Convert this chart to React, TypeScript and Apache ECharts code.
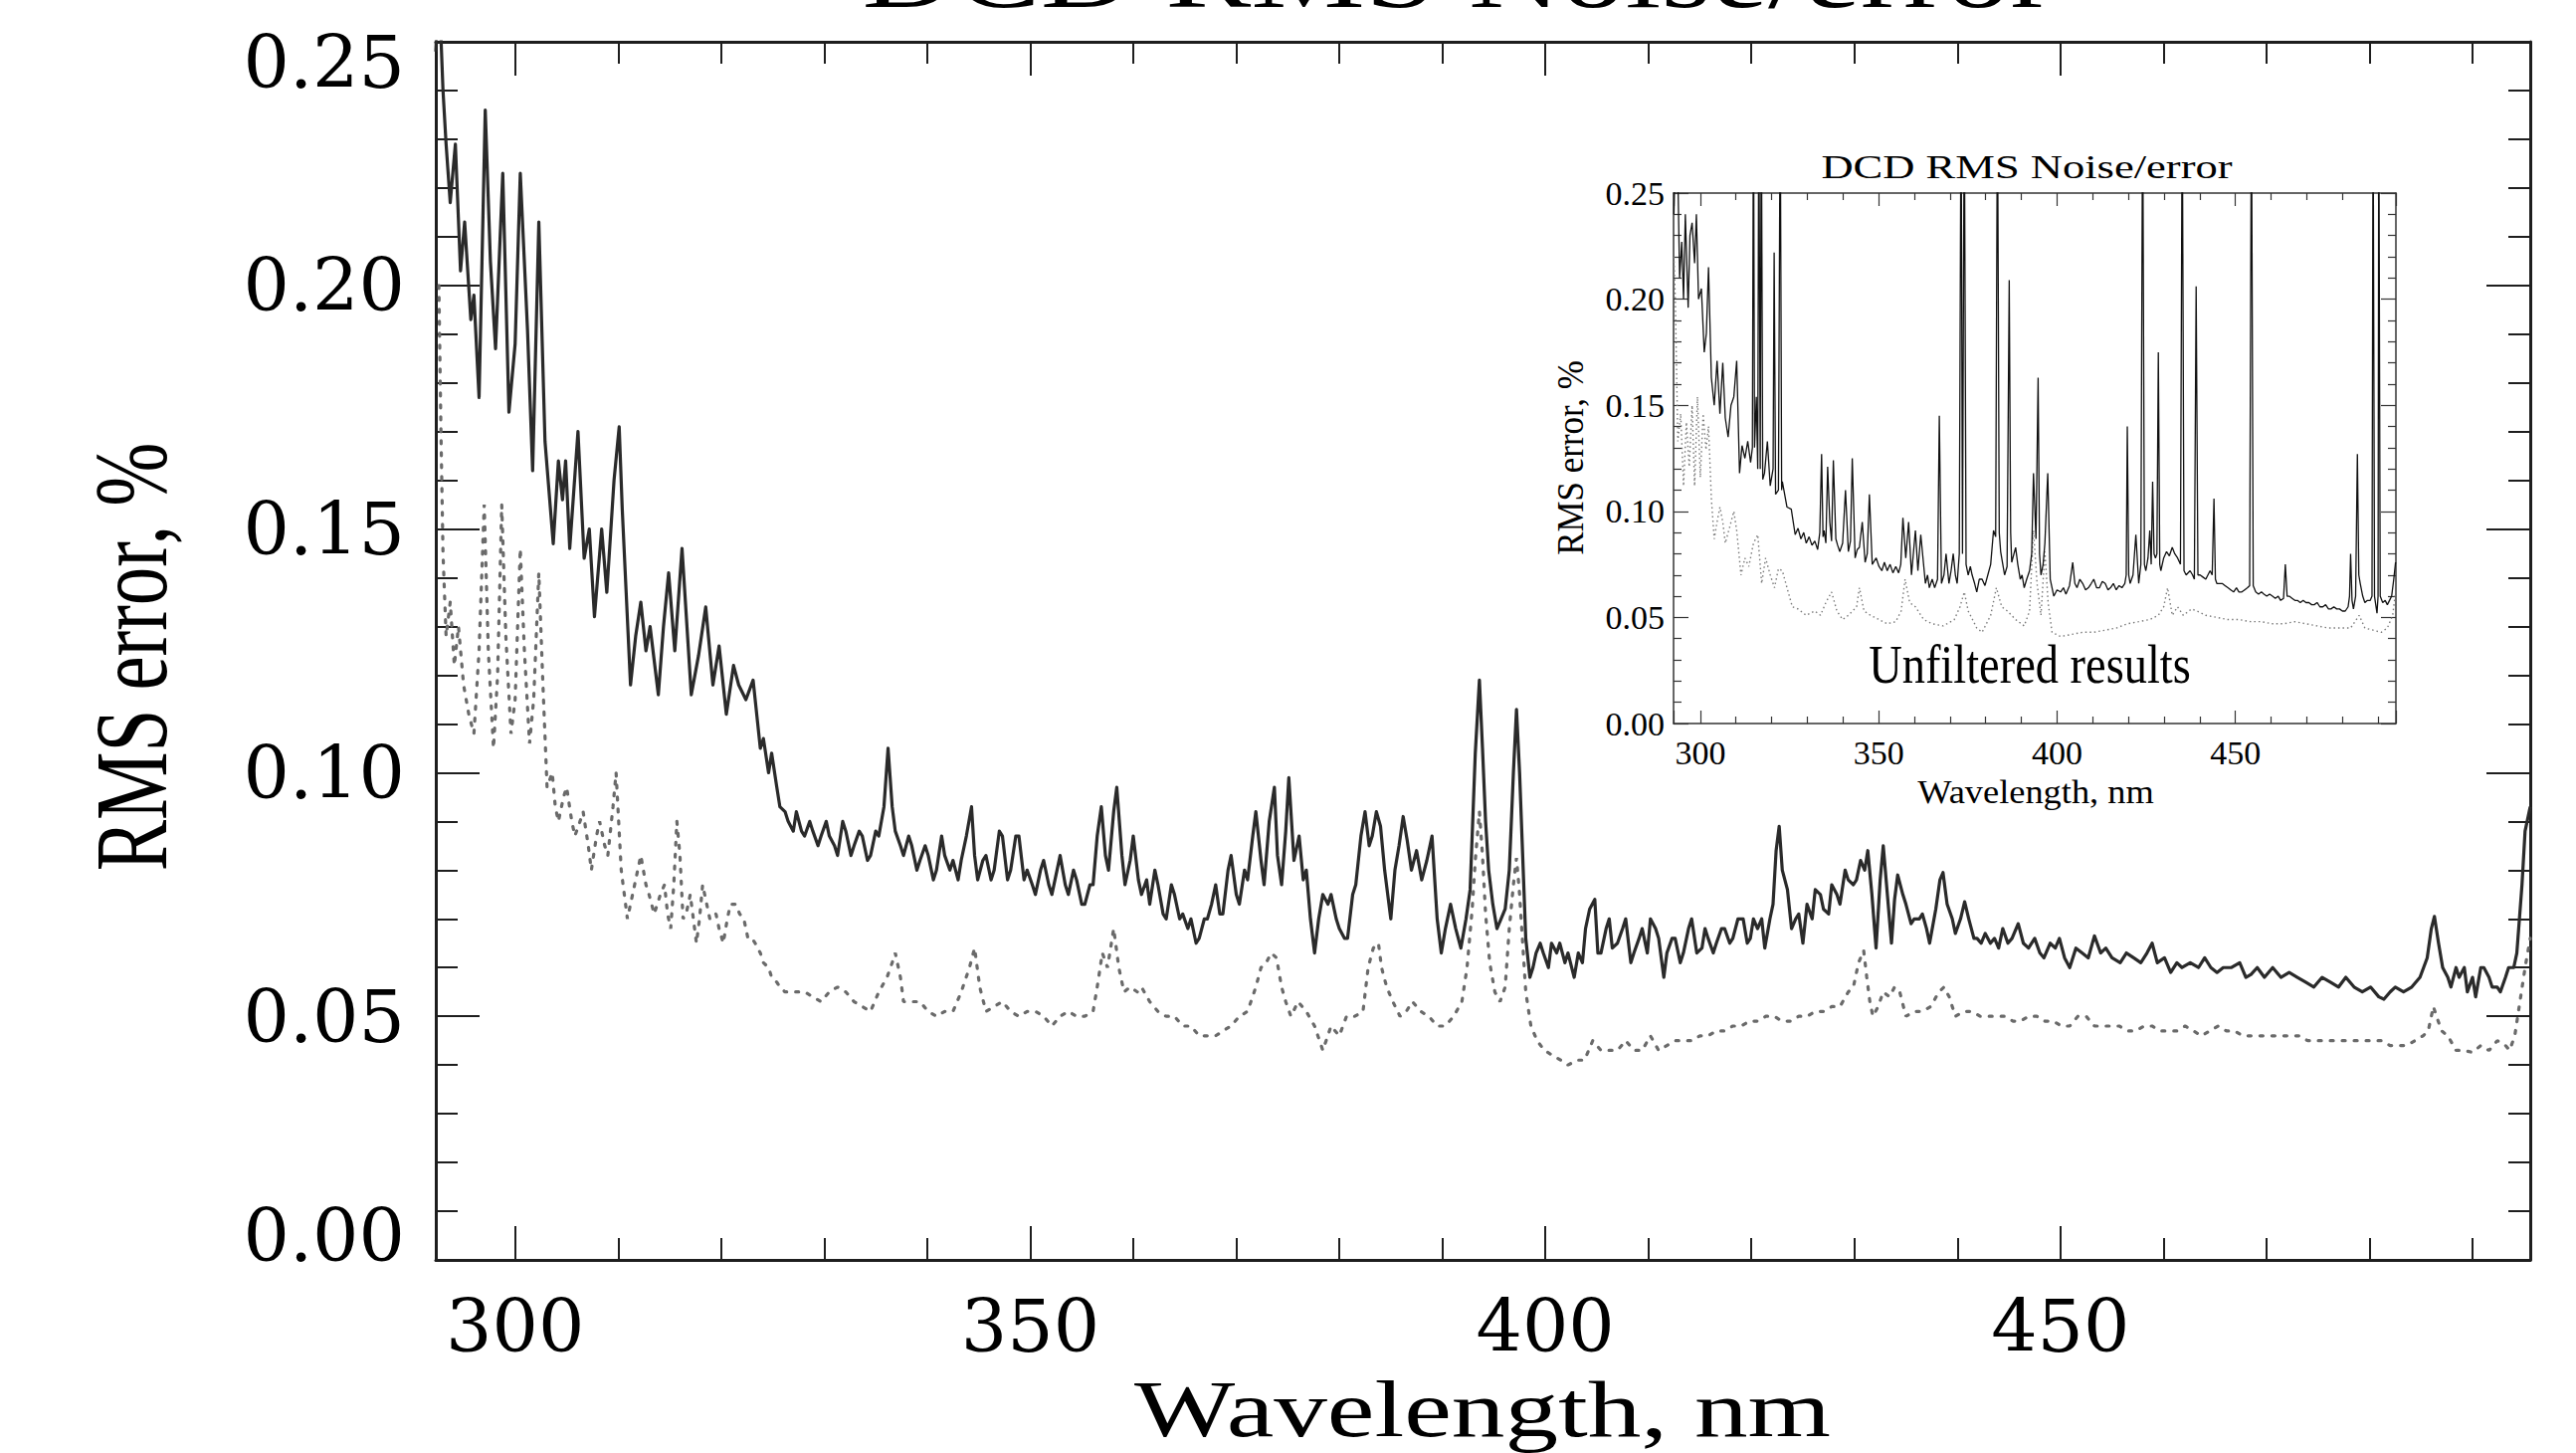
import React, { useEffect, useRef } from "react";
import * as echarts from "echarts";

// Wavelength ranges (nm) of the two panels and the RMS error range (%)
const MAIN_X_MIN = 292.3;
const MAIN_X_MAX = 495.6;
const INSET_X_MIN = 292.5;
const INSET_X_MAX = 495.0;
const Y_MIN = 0;
const Y_MAX = 0.25;
const Y_STEP = 0.05;

const titleText = "DCD RMS Noise/error";
const xAxisTitle = "Wavelength, nm";
const yAxisTitle = "RMS error, %";
const insetNote = "Unfiltered results";

// Filtered RMS error, solid curve: [wavelength nm, error %]
const mainSolid: [number, number][] = [
  [292.3, 0.248], [292.6, 0.262], [293.0, 0.24], [293.3, 0.229], [293.7, 0.217], [294.2, 0.229], [294.7, 0.203],
  [295.1, 0.213], [295.7, 0.193], [296.0, 0.198], [296.5, 0.177], [297.1, 0.236], [297.6, 0.205], [298.1, 0.187],
  [298.8, 0.223], [299.4, 0.174], [300.0, 0.188], [300.5, 0.223], [301.2, 0.191], [301.7, 0.162], [302.3, 0.213],
  [302.9, 0.168], [303.7, 0.147], [304.2, 0.164], [304.6, 0.156], [304.9, 0.164], [305.3, 0.146], [306.1, 0.17],
  [306.7, 0.144], [307.2, 0.15], [307.7, 0.132], [308.4, 0.15], [308.9, 0.137], [309.6, 0.16], [310.1, 0.171],
  [310.4, 0.154], [311.2, 0.118], [311.7, 0.128], [312.2, 0.135], [312.7, 0.125], [313.1, 0.13], [313.9, 0.116],
  [314.4, 0.13], [314.9, 0.141], [315.5, 0.125], [316.2, 0.146], [317.1, 0.116], [317.8, 0.124], [318.5, 0.134],
  [319.2, 0.118], [319.8, 0.126], [320.5, 0.112], [321.2, 0.122], [321.7, 0.118], [322.4, 0.115], [323.1, 0.119],
  [323.8, 0.105], [324.1, 0.107], [324.6, 0.1], [324.9, 0.104], [325.4, 0.097], [325.7, 0.093], [326.2, 0.092],
  [326.5, 0.09], [327.0, 0.088], [327.3, 0.092], [327.8, 0.088], [328.1, 0.087], [328.6, 0.09], [328.9, 0.088],
  [329.4, 0.085], [329.7, 0.087], [330.2, 0.09], [330.5, 0.087], [331.0, 0.085], [331.3, 0.083], [331.8, 0.09],
  [332.1, 0.088], [332.6, 0.083], [332.9, 0.085], [333.4, 0.088], [333.7, 0.087], [334.2, 0.082], [334.5, 0.083],
  [335.0, 0.088], [335.3, 0.087], [335.8, 0.093], [336.2, 0.105], [336.6, 0.093], [336.9, 0.088], [337.4, 0.085],
  [337.7, 0.083], [338.2, 0.087], [338.5, 0.085], [339.0, 0.08], [339.3, 0.082], [339.8, 0.085], [340.1, 0.083],
  [340.6, 0.078], [340.9, 0.08], [341.4, 0.087], [341.7, 0.083], [342.2, 0.08], [342.5, 0.082], [343.0, 0.078],
  [343.3, 0.082], [343.8, 0.087], [344.3, 0.093], [344.6, 0.083], [344.9, 0.078], [345.4, 0.082], [345.7, 0.083],
  [346.2, 0.078], [346.5, 0.08], [347.0, 0.088], [347.3, 0.087], [347.8, 0.078], [348.1, 0.08], [348.6, 0.087],
  [348.9, 0.087], [349.4, 0.078], [349.7, 0.08], [350.2, 0.077], [350.5, 0.075], [351.0, 0.08], [351.3, 0.082],
  [351.8, 0.077], [352.1, 0.075], [352.6, 0.08], [352.9, 0.083], [353.4, 0.077], [353.7, 0.075], [354.2, 0.08],
  [354.5, 0.078], [355.0, 0.073], [355.3, 0.073], [355.8, 0.077], [356.1, 0.077], [356.5, 0.087], [356.9, 0.093],
  [357.3, 0.083], [357.6, 0.08], [358.1, 0.092], [358.4, 0.097], [358.9, 0.083], [359.2, 0.077], [359.7, 0.082],
  [360.0, 0.087], [360.5, 0.078], [360.8, 0.075], [361.3, 0.078], [361.6, 0.073], [362.1, 0.08], [362.4, 0.077],
  [362.9, 0.071], [363.2, 0.07], [363.7, 0.077], [364.0, 0.075], [364.5, 0.07], [364.8, 0.071], [365.3, 0.068],
  [365.6, 0.07], [366.1, 0.065], [366.4, 0.066], [366.9, 0.07], [367.2, 0.07], [367.6, 0.073], [368.0, 0.077],
  [368.4, 0.071], [368.7, 0.071], [369.2, 0.08], [369.5, 0.083], [370.0, 0.075], [370.3, 0.073], [370.8, 0.08],
  [371.1, 0.078], [371.6, 0.087], [371.9, 0.092], [372.4, 0.082], [372.7, 0.077], [373.2, 0.09], [373.7, 0.097],
  [374.0, 0.083], [374.4, 0.077], [374.8, 0.088], [375.1, 0.099], [375.6, 0.082], [376.1, 0.087], [376.5, 0.078],
  [376.8, 0.08], [377.2, 0.07], [377.6, 0.063], [378.0, 0.07], [378.4, 0.075], [378.9, 0.073], [379.2, 0.075],
  [379.7, 0.07], [380.0, 0.068], [380.5, 0.066], [380.8, 0.066], [381.3, 0.075], [381.6, 0.077], [382.1, 0.087],
  [382.5, 0.092], [382.9, 0.085], [383.2, 0.087], [383.6, 0.092], [384.0, 0.089], [384.4, 0.08], [385.0, 0.07],
  [385.4, 0.08], [385.8, 0.085], [386.2, 0.091], [386.6, 0.086], [387.0, 0.08], [387.5, 0.084], [388.0, 0.078],
  [388.5, 0.082], [389.0, 0.087], [389.5, 0.07], [389.9, 0.063], [390.3, 0.068], [390.8, 0.073], [391.3, 0.068],
  [391.8, 0.064], [392.3, 0.07], [392.7, 0.076], [393.2, 0.104], [393.6, 0.119], [393.9, 0.105], [394.2, 0.09],
  [394.5, 0.08], [394.9, 0.073], [395.3, 0.068], [395.7, 0.07], [396.1, 0.072], [396.5, 0.08], [396.9, 0.1],
  [397.2, 0.113], [397.5, 0.1], [397.8, 0.083], [398.1, 0.066], [398.5, 0.058], [398.8, 0.06], [399.1, 0.063],
  [399.5, 0.065], [399.8, 0.063], [400.3, 0.06], [400.6, 0.065], [401.1, 0.063], [401.4, 0.065], [401.9, 0.061],
  [402.2, 0.063], [402.8, 0.058], [403.2, 0.063], [403.6, 0.061], [403.9, 0.068], [404.3, 0.072], [404.8, 0.074],
  [405.1, 0.063], [405.4, 0.063], [405.9, 0.068], [406.2, 0.07], [406.5, 0.064], [407.0, 0.065], [407.5, 0.068],
  [407.8, 0.07], [408.3, 0.061], [408.6, 0.063], [409.1, 0.066], [409.4, 0.068], [409.9, 0.063], [410.2, 0.07],
  [410.7, 0.068], [411.0, 0.066], [411.5, 0.058], [411.8, 0.063], [412.3, 0.066], [412.6, 0.066], [413.1, 0.061],
  [413.4, 0.063], [413.9, 0.068], [414.2, 0.07], [414.7, 0.063], [415.2, 0.064], [415.5, 0.068], [415.8, 0.066],
  [416.3, 0.063], [416.6, 0.065], [417.1, 0.068], [417.4, 0.068], [417.9, 0.065], [418.2, 0.066], [418.7, 0.07],
  [419.2, 0.07], [419.6, 0.065], [419.9, 0.066], [420.2, 0.07], [420.6, 0.068], [421.0, 0.07], [421.3, 0.064],
  [421.8, 0.07], [422.1, 0.073], [422.4, 0.084], [422.7, 0.089], [423.0, 0.08], [423.5, 0.076], [423.9, 0.068],
  [424.3, 0.07], [424.6, 0.071], [425.0, 0.065], [425.4, 0.073], [425.9, 0.07], [426.2, 0.076], [426.7, 0.075],
  [427.0, 0.072], [427.5, 0.071], [427.8, 0.077], [428.3, 0.075], [428.6, 0.073], [429.1, 0.08], [429.4, 0.078],
  [429.9, 0.077], [430.2, 0.078], [430.6, 0.082], [431.0, 0.08], [431.3, 0.084], [431.7, 0.075], [432.1, 0.064],
  [432.5, 0.078], [432.8, 0.085], [433.2, 0.075], [433.6, 0.065], [433.9, 0.074], [434.2, 0.079], [434.7, 0.075],
  [435.0, 0.073], [435.5, 0.069], [435.8, 0.07], [436.3, 0.07], [436.6, 0.071], [437.0, 0.068], [437.3, 0.065],
  [437.9, 0.072], [438.3, 0.078], [438.6, 0.0795], [439.0, 0.073], [439.5, 0.07], [439.8, 0.067], [440.3, 0.07],
  [440.7, 0.0735], [441.1, 0.07], [441.6, 0.066], [441.9, 0.066], [442.3, 0.065], [442.7, 0.067], [443.2, 0.065],
  [443.6, 0.066], [444.0, 0.064], [444.4, 0.068], [444.9, 0.065], [445.3, 0.066], [445.9, 0.069], [446.4, 0.065],
  [446.9, 0.064], [447.5, 0.066], [448.0, 0.063], [448.4, 0.062], [449.0, 0.065], [449.5, 0.064], [449.9, 0.066],
  [450.4, 0.062], [450.9, 0.06], [451.5, 0.064], [452.1, 0.063], [452.7, 0.062], [453.3, 0.0665], [453.9, 0.063],
  [454.4, 0.064], [455.0, 0.062], [455.8, 0.061], [456.4, 0.063], [457.1, 0.062], [457.8, 0.061], [458.4, 0.063],
  [458.9, 0.065], [459.4, 0.061], [460.1, 0.062], [460.7, 0.059], [461.3, 0.061], [461.8, 0.06], [462.6, 0.061],
  [463.4, 0.06], [464.0, 0.062], [464.6, 0.06], [465.2, 0.059], [465.8, 0.06], [466.6, 0.06], [467.4, 0.061],
  [468.0, 0.058], [468.5, 0.0586], [469.1, 0.06], [469.8, 0.058], [470.6, 0.06], [471.4, 0.058], [472.2, 0.059],
  [473.0, 0.058], [473.8, 0.057], [474.6, 0.056], [475.4, 0.058], [476.2, 0.057], [477.0, 0.056], [477.7, 0.058],
  [478.5, 0.056], [479.3, 0.055], [480.1, 0.056], [480.9, 0.054], [481.4, 0.0535], [482.0, 0.055], [482.5, 0.056],
  [483.3, 0.055], [484.1, 0.056], [484.9, 0.058], [485.6, 0.062], [486.0, 0.068], [486.3, 0.0705], [486.7, 0.065],
  [487.1, 0.06], [487.6, 0.058], [487.9, 0.056], [488.4, 0.06], [488.7, 0.058], [489.2, 0.06], [489.5, 0.055],
  [490.0, 0.058], [490.3, 0.054], [490.8, 0.06], [491.1, 0.06], [491.6, 0.058], [491.9, 0.056], [492.4, 0.056],
  [492.7, 0.055], [493.2, 0.058], [493.5, 0.06], [494.0, 0.06], [494.3, 0.063], [494.8, 0.077], [495.1, 0.088],
  [495.6, 0.093]
];

// Reference error, dotted curve: [wavelength nm, error %]
const mainDotted: [number, number][] = [
  [292.6, 0.2], [292.8, 0.17], [293.0, 0.145], [293.3, 0.128], [293.7, 0.135], [294.1, 0.122], [294.5, 0.13],
  [295.0, 0.118], [295.5, 0.112], [296.0, 0.108], [296.5, 0.125], [297.0, 0.155], [297.4, 0.125], [297.9, 0.105],
  [298.3, 0.12], [298.7, 0.155], [299.1, 0.128], [299.6, 0.108], [300.0, 0.115], [300.5, 0.146], [300.9, 0.125],
  [301.4, 0.106], [301.8, 0.115], [302.3, 0.141], [302.7, 0.118], [303.1, 0.097], [303.6, 0.1], [303.9, 0.093],
  [304.2, 0.09], [304.7, 0.095], [305.0, 0.097], [305.5, 0.09], [305.8, 0.087], [306.3, 0.09], [306.6, 0.092],
  [307.1, 0.085], [307.4, 0.08], [307.9, 0.087], [308.2, 0.09], [308.7, 0.085], [309.0, 0.083], [309.5, 0.093],
  [309.8, 0.1], [310.3, 0.08], [310.6, 0.075], [310.9, 0.07], [311.2, 0.073], [311.6, 0.077], [311.9, 0.08],
  [312.2, 0.083], [312.7, 0.077], [313.0, 0.075], [313.5, 0.071], [313.8, 0.073], [314.1, 0.075], [314.5, 0.077],
  [314.8, 0.071], [315.1, 0.068], [315.4, 0.077], [315.7, 0.09], [316.0, 0.083], [316.3, 0.07], [316.6, 0.071],
  [317.0, 0.075], [317.3, 0.07], [317.6, 0.065], [317.9, 0.07], [318.2, 0.077], [318.6, 0.073], [318.9, 0.07],
  [319.2, 0.071], [319.5, 0.071], [319.8, 0.068], [320.2, 0.065], [320.6, 0.07], [320.9, 0.073], [321.4, 0.073],
  [321.8, 0.071], [322.2, 0.07], [322.6, 0.066], [323.0, 0.066], [323.3, 0.065], [323.8, 0.063], [324.1, 0.061],
  [324.6, 0.06], [324.9, 0.058], [325.4, 0.057], [325.7, 0.056], [326.2, 0.055], [326.5, 0.055], [327.3, 0.055],
  [328.1, 0.055], [328.9, 0.054], [329.7, 0.053], [330.5, 0.055], [331.3, 0.056], [332.1, 0.055], [332.9, 0.053],
  [333.7, 0.052], [334.5, 0.051], [335.3, 0.055], [336.1, 0.058], [336.6, 0.061], [336.9, 0.063], [337.4, 0.058],
  [337.7, 0.053], [338.5, 0.053], [339.3, 0.053], [340.1, 0.051], [340.9, 0.05], [341.7, 0.051], [342.5, 0.051],
  [343.3, 0.055], [344.1, 0.06], [344.6, 0.064], [345.1, 0.056], [345.7, 0.051], [346.5, 0.052], [347.3, 0.053],
  [348.1, 0.051], [348.9, 0.05], [349.7, 0.051], [350.5, 0.051], [351.3, 0.05], [352.1, 0.048], [352.9, 0.05],
  [353.7, 0.051], [354.5, 0.05], [355.3, 0.05], [356.1, 0.051], [356.5, 0.056], [357.0, 0.063], [357.5, 0.06],
  [358.1, 0.068], [358.6, 0.06], [359.1, 0.055], [359.7, 0.056], [360.4, 0.055], [360.8, 0.056], [361.6, 0.053],
  [362.4, 0.051], [363.2, 0.05], [364.0, 0.05], [364.8, 0.048], [365.6, 0.048], [366.4, 0.046], [367.2, 0.046],
  [368.0, 0.046], [368.7, 0.047], [369.5, 0.048], [370.3, 0.05], [371.1, 0.051], [371.9, 0.056], [372.4, 0.06],
  [372.9, 0.061], [373.4, 0.063], [373.9, 0.062], [374.4, 0.056], [374.8, 0.053], [375.3, 0.05], [376.0, 0.053],
  [376.8, 0.051], [377.6, 0.048], [378.4, 0.043], [379.2, 0.048], [380.0, 0.046], [380.7, 0.05], [381.5, 0.05],
  [382.3, 0.051], [382.8, 0.06], [383.3, 0.064], [383.8, 0.065], [384.1, 0.06], [384.6, 0.056], [385.2, 0.053],
  [385.9, 0.05], [386.5, 0.051], [387.1, 0.053], [387.9, 0.051], [388.7, 0.05], [389.5, 0.048], [390.3, 0.048],
  [391.1, 0.05], [391.9, 0.053], [392.4, 0.06], [392.9, 0.072], [393.2, 0.082], [393.6, 0.092], [393.9, 0.083],
  [394.2, 0.071], [394.6, 0.061], [395.1, 0.055], [395.6, 0.053], [396.1, 0.056], [396.5, 0.068], [396.9, 0.077],
  [397.2, 0.0825], [397.5, 0.075], [397.8, 0.065], [398.1, 0.055], [398.6, 0.048], [399.2, 0.045], [399.9, 0.043],
  [400.7, 0.042], [401.5, 0.041], [402.2, 0.04], [403.1, 0.041], [403.8, 0.041], [404.6, 0.045], [405.4, 0.043],
  [406.2, 0.043], [407.0, 0.043], [407.8, 0.045], [408.6, 0.043], [409.4, 0.043], [410.2, 0.046], [411.0, 0.043],
  [411.8, 0.044], [412.6, 0.045], [413.4, 0.045], [414.2, 0.045], [415.0, 0.046], [415.8, 0.046], [416.6, 0.047],
  [417.4, 0.047], [418.2, 0.048], [419.0, 0.048], [419.8, 0.049], [420.6, 0.049], [421.4, 0.05], [422.2, 0.05],
  [423.0, 0.049], [423.8, 0.049], [424.6, 0.05], [425.4, 0.05], [426.2, 0.051], [427.0, 0.051], [427.8, 0.052],
  [428.6, 0.052], [429.4, 0.055], [429.9, 0.056], [430.4, 0.061], [430.9, 0.0635], [431.2, 0.058], [431.5, 0.053],
  [431.8, 0.05], [432.3, 0.052], [432.8, 0.055], [433.4, 0.054], [433.9, 0.056], [434.4, 0.055], [435.0, 0.05],
  [435.8, 0.051], [436.6, 0.051], [437.4, 0.052], [438.2, 0.055], [438.7, 0.056], [439.2, 0.054], [439.8, 0.05],
  [440.6, 0.051], [441.4, 0.051], [442.2, 0.05], [443.0, 0.05], [443.8, 0.05], [444.6, 0.05], [445.4, 0.049],
  [446.1, 0.049], [446.9, 0.05], [447.7, 0.05], [448.5, 0.049], [449.3, 0.049], [450.1, 0.048], [450.9, 0.048],
  [451.7, 0.05], [452.5, 0.05], [453.3, 0.048], [454.1, 0.048], [454.9, 0.048], [455.7, 0.048], [456.5, 0.047],
  [457.3, 0.047], [458.1, 0.048], [458.9, 0.048], [459.7, 0.047], [460.5, 0.047], [461.3, 0.047], [462.1, 0.048],
  [462.9, 0.047], [463.7, 0.046], [464.5, 0.047], [465.3, 0.048], [466.1, 0.047], [466.9, 0.047], [467.7, 0.046],
  [468.5, 0.046], [469.2, 0.046], [470.0, 0.046], [470.8, 0.046], [471.6, 0.046], [472.4, 0.046], [473.2, 0.046],
  [474.0, 0.045], [474.8, 0.045], [475.6, 0.045], [476.4, 0.045], [477.2, 0.045], [478.0, 0.045], [478.8, 0.045],
  [479.6, 0.045], [480.4, 0.045], [481.2, 0.045], [482.0, 0.044], [482.8, 0.044], [483.6, 0.044], [484.4, 0.045],
  [485.2, 0.046], [485.7, 0.047], [486.2, 0.052], [486.5, 0.05], [487.0, 0.047], [487.6, 0.046], [488.4, 0.043],
  [489.2, 0.043], [490.0, 0.0426], [490.8, 0.044], [491.6, 0.043], [492.4, 0.045], [493.2, 0.044], [493.6, 0.043],
  [494.1, 0.046], [494.6, 0.053], [495.1, 0.06], [495.6, 0.066]
];

// Unfiltered results (inset), solid curve
const insetSolid: [number, number][] = [
  [292.6, 0.24], [293.3, 0.3], [293.7, 0.26], [294.2, 0.21], [294.8, 0.227], [295.3, 0.2], [295.8, 0.24],
  [296.6, 0.196], [297.1, 0.23], [297.7, 0.236], [298.4, 0.217], [298.9, 0.24], [299.5, 0.2], [300.3, 0.205],
  [301.1, 0.175], [301.7, 0.184], [302.3, 0.215], [303.1, 0.163], [303.9, 0.15], [304.7, 0.171], [305.5, 0.146],
  [306.3, 0.17], [307.0, 0.144], [307.8, 0.135], [308.6, 0.15], [309.4, 0.154], [310.2, 0.171], [311.0, 0.118],
  [311.7, 0.131], [312.5, 0.125], [313.3, 0.133], [314.1, 0.123], [314.6, 0.13], [314.9, 0.3], [315.2, 0.13],
  [315.7, 0.154], [316.1, 0.12], [316.4, 0.3], [316.8, 0.12], [317.1, 0.3], [317.5, 0.115], [318.0, 0.118],
  [318.8, 0.133], [319.6, 0.112], [320.4, 0.12], [320.7, 0.222], [321.1, 0.108], [321.9, 0.11], [322.4, 0.3],
  [322.8, 0.11], [323.0, 0.114], [324.3, 0.102], [325.5, 0.101], [326.6, 0.089], [327.4, 0.092], [328.2, 0.087],
  [329.0, 0.09], [329.7, 0.085], [330.5, 0.088], [331.3, 0.084], [332.1, 0.086], [332.9, 0.082], [333.5, 0.09],
  [334.0, 0.127], [334.4, 0.088], [334.7, 0.091], [335.2, 0.085], [335.7, 0.121], [336.3, 0.095], [336.8, 0.086],
  [337.3, 0.124], [338.0, 0.087], [338.5, 0.084], [339.1, 0.081], [339.9, 0.085], [340.7, 0.11], [341.5, 0.081],
  [342.1, 0.086], [342.6, 0.125], [343.4, 0.078], [344.0, 0.082], [344.6, 0.083], [345.4, 0.095], [346.2, 0.076],
  [346.8, 0.08], [347.4, 0.108], [348.2, 0.075], [349.3, 0.078], [350.1, 0.074], [350.9, 0.072], [351.6, 0.076],
  [352.4, 0.072], [353.2, 0.075], [354.0, 0.071], [354.8, 0.074], [355.6, 0.071], [356.2, 0.075], [356.8, 0.097],
  [357.6, 0.078], [358.4, 0.095], [359.2, 0.07], [360.3, 0.091], [361.0, 0.072], [361.8, 0.089], [363.1, 0.066],
  [363.7, 0.07], [364.2, 0.064], [365.0, 0.068], [365.7, 0.064], [366.5, 0.068], [367.0, 0.145], [367.6, 0.066],
  [368.3, 0.07], [368.9, 0.08], [369.7, 0.066], [370.3, 0.072], [370.9, 0.08], [371.5, 0.07], [372.0, 0.066],
  [372.6, 0.08], [373.1, 0.3], [373.5, 0.08], [374.0, 0.3], [374.5, 0.075], [375.1, 0.07], [375.7, 0.074],
  [376.2, 0.07], [376.9, 0.066], [377.5, 0.062], [378.2, 0.068], [379.0, 0.068], [379.8, 0.065], [380.6, 0.07],
  [381.4, 0.075], [382.2, 0.091], [382.8, 0.088], [383.3, 0.3], [383.8, 0.09], [384.2, 0.081], [384.8, 0.075],
  [385.3, 0.07], [386.0, 0.074], [386.6, 0.209], [387.0, 0.09], [387.3, 0.076], [388.4, 0.083], [389.0, 0.075],
  [389.7, 0.068], [390.2, 0.07], [390.8, 0.064], [391.5, 0.068], [392.3, 0.072], [392.9, 0.08], [393.4, 0.118],
  [394.1, 0.087], [394.7, 0.163], [395.1, 0.08], [395.5, 0.07], [396.1, 0.075], [396.6, 0.085], [397.4, 0.118],
  [398.1, 0.068], [399.1, 0.06], [400.0, 0.063], [401.0, 0.062], [401.8, 0.064], [402.5, 0.061], [403.5, 0.065],
  [404.4, 0.076], [405.0, 0.066], [405.6, 0.064], [406.4, 0.068], [407.2, 0.066], [408.0, 0.063], [408.8, 0.064],
  [409.6, 0.066], [410.3, 0.068], [411.1, 0.064], [411.9, 0.064], [412.7, 0.067], [413.5, 0.066], [414.3, 0.063],
  [415.0, 0.064], [415.8, 0.066], [416.6, 0.063], [417.4, 0.065], [418.2, 0.064], [419.0, 0.066], [419.4, 0.07],
  [419.7, 0.14], [420.1, 0.07], [420.5, 0.066], [421.3, 0.07], [422.1, 0.089], [422.9, 0.066], [423.5, 0.075],
  [424.0, 0.3], [424.5, 0.075], [424.9, 0.072], [425.5, 0.078], [426.0, 0.091], [426.4, 0.075], [426.8, 0.114],
  [427.2, 0.08], [427.6, 0.078], [428.0, 0.08], [428.4, 0.175], [428.8, 0.075], [429.1, 0.072], [429.9, 0.078],
  [430.7, 0.081], [431.5, 0.079], [432.3, 0.083], [433.0, 0.08], [433.8, 0.078], [434.6, 0.075], [435.1, 0.3],
  [435.6, 0.072], [436.2, 0.07], [437.3, 0.072], [438.0, 0.07], [438.5, 0.068], [439.0, 0.206], [439.5, 0.07],
  [440.1, 0.07], [440.9, 0.069], [441.7, 0.068], [442.3, 0.07], [442.9, 0.072], [443.5, 0.07], [444.0, 0.106],
  [444.4, 0.068], [444.8, 0.066], [445.6, 0.066], [446.3, 0.066], [447.1, 0.065], [447.9, 0.064], [448.7, 0.063],
  [449.5, 0.062], [450.3, 0.064], [451.0, 0.062], [451.8, 0.062], [452.6, 0.063], [453.4, 0.064], [454.0, 0.065],
  [454.5, 0.3], [455.0, 0.065], [455.7, 0.062], [456.5, 0.061], [457.3, 0.062], [458.0, 0.061], [458.8, 0.06],
  [459.6, 0.061], [460.4, 0.06], [461.2, 0.059], [462.0, 0.06], [462.7, 0.058], [463.5, 0.059], [464.0, 0.075],
  [464.5, 0.06], [465.1, 0.06], [465.9, 0.059], [466.7, 0.058], [467.4, 0.058], [468.2, 0.057], [469.0, 0.058],
  [469.8, 0.057], [470.6, 0.057], [471.4, 0.056], [472.1, 0.056], [472.9, 0.057], [473.7, 0.055], [474.5, 0.055],
  [475.3, 0.056], [476.1, 0.054], [476.8, 0.054], [477.6, 0.055], [478.4, 0.054], [479.2, 0.054], [480.0, 0.053],
  [480.8, 0.053], [481.6, 0.055], [482.0, 0.06], [482.3, 0.08], [482.7, 0.058], [483.1, 0.054], [483.7, 0.06],
  [484.2, 0.127], [484.6, 0.07], [485.0, 0.066], [485.7, 0.06], [486.3, 0.057], [487.0, 0.058], [487.8, 0.058],
  [488.3, 0.06], [488.6, 0.3], [489.0, 0.06], [489.7, 0.052], [490.0, 0.06], [490.2, 0.3], [490.6, 0.06],
  [491.3, 0.057], [492.0, 0.058], [492.6, 0.056], [493.2, 0.058], [493.8, 0.06], [494.4, 0.068], [494.9, 0.076]
];

// Unfiltered results (inset), dotted curve
const insetDotted: [number, number][] = [
  [292.6, 0.22], [293.0, 0.2], [293.7, 0.133], [294.5, 0.146], [295.3, 0.112], [296.1, 0.142], [296.9, 0.121],
  [297.7, 0.15], [298.4, 0.112], [299.2, 0.154], [300.0, 0.116], [300.8, 0.146], [301.6, 0.129], [302.3, 0.14],
  [303.1, 0.106], [303.9, 0.087], [304.7, 0.095], [305.5, 0.102], [306.3, 0.095], [307.0, 0.085], [308.3, 0.093],
  [309.4, 0.1], [310.2, 0.091], [311.4, 0.07], [312.5, 0.078], [313.6, 0.074], [314.9, 0.085], [316.1, 0.089],
  [317.2, 0.066], [318.3, 0.078], [319.6, 0.07], [320.8, 0.064], [321.9, 0.073], [323.0, 0.072], [324.3, 0.064],
  [325.8, 0.055], [327.4, 0.054], [329.7, 0.051], [332.1, 0.053], [333.7, 0.051], [335.2, 0.057], [336.8, 0.062],
  [338.3, 0.053], [339.9, 0.049], [341.5, 0.051], [343.8, 0.055], [344.6, 0.064], [345.9, 0.053], [347.7, 0.051],
  [350.1, 0.049], [352.4, 0.047], [354.8, 0.048], [356.3, 0.053], [357.4, 0.068], [358.7, 0.057], [360.3, 0.055],
  [362.6, 0.049], [365.0, 0.047], [368.1, 0.046], [371.2, 0.049], [372.8, 0.055], [374.0, 0.062], [375.1, 0.053],
  [377.5, 0.045], [379.0, 0.043], [381.4, 0.051], [383.0, 0.064], [384.5, 0.055], [386.1, 0.053], [388.4, 0.049],
  [390.8, 0.046], [392.3, 0.053], [393.4, 0.091], [394.4, 0.066], [395.5, 0.051], [396.6, 0.081], [397.5, 0.057],
  [398.6, 0.043], [401.0, 0.041], [404.1, 0.042], [407.2, 0.043], [410.3, 0.043], [413.5, 0.044], [416.6, 0.045],
  [419.7, 0.047], [422.9, 0.048], [426.0, 0.049], [428.4, 0.051], [429.9, 0.055], [431.0, 0.064], [432.3, 0.051],
  [433.8, 0.055], [435.4, 0.051], [437.7, 0.054], [439.3, 0.053], [441.7, 0.051], [444.8, 0.05], [447.9, 0.049],
  [451.0, 0.049], [454.2, 0.048], [457.3, 0.048], [460.4, 0.047], [463.5, 0.047], [466.7, 0.048], [469.8, 0.047],
  [472.9, 0.046], [476.1, 0.045], [479.2, 0.045], [482.3, 0.045], [484.7, 0.051], [486.3, 0.045], [488.6, 0.044],
  [490.9, 0.043], [492.6, 0.045], [494.1, 0.051], [494.9, 0.062]
];

const WIDE_SERIF = "'DejaVu Serif', serif";
const SERIF = "'Liberation Serif', 'Times New Roman', serif";
const INK = "#1e1e1e";

function fmt(v: number): string {
  return v.toFixed(2);
}

function buildOption(): echarts.EChartsOption {
  const mainTickLabel = {
    fontFamily: WIDE_SERIF,
    fontSize: 73,
    color: "#000",
  };

  const mainX = (position: "top" | "bottom", labels: boolean) => ({
    type: "value" as const,
    gridIndex: 0,
    position,
    min: MAIN_X_MIN,
    max: MAIN_X_MAX,
    axisLine: { show: true, onZero: false, lineStyle: { color: INK, width: 3 } },
    axisTick: { show: true, inside: true, length: 34, lineStyle: { color: INK, width: 2 } },
    minorTick: { show: true, splitNumber: 5, length: 22, lineStyle: { color: INK, width: 2 } },
    splitLine: { show: false },
    axisLabel: labels
      ? { show: true, showMinLabel: false, showMaxLabel: false, margin: 30, ...mainTickLabel }
      : { show: false },
  });

  const mainY = (position: "left" | "right", labels: boolean) => ({
    type: "value" as const,
    gridIndex: 0,
    position,
    min: Y_MIN,
    max: Y_MAX,
    interval: Y_STEP,
    axisLine: { show: true, onZero: false, lineStyle: { color: INK, width: 3 } },
    axisTick: { show: true, inside: true, length: 44, lineStyle: { color: INK, width: 2 } },
    minorTick: { show: true, splitNumber: 5, length: 22, lineStyle: { color: INK, width: 2 } },
    splitLine: { show: false },
    axisLabel: labels
      ? {
          show: true,
          margin: 31,
          ...mainTickLabel,
          formatter: (v: number) => {
            const s = fmt(v);
            if (Math.abs(v - Y_MAX) < 1e-9) return `{top|${s}}`;
            if (Math.abs(v - Y_MIN) < 1e-9) return `{low|${s}}`;
            return `{mid|${s}}`;
          },
          rich: {
            top: { ...mainTickLabel, padding: [40, 0, 0, 0] },
            low: { ...mainTickLabel, padding: [0, 0, 50, 0] },
            mid: { ...mainTickLabel },
          },
        }
      : { show: false },
  });

  const insetTickLabel = { fontFamily: SERIF, fontSize: 34, color: "#000" };

  const insetX = (position: "top" | "bottom", labels: boolean) => ({
    type: "value" as const,
    gridIndex: 1,
    position,
    min: INSET_X_MIN,
    max: INSET_X_MAX,
    axisLine: { show: true, onZero: false, lineStyle: { color: "#333", width: 1.5 } },
    axisTick: { show: true, inside: true, length: 13, lineStyle: { color: "#333", width: 1.2 } },
    minorTick: { show: true, splitNumber: 5, length: 7, lineStyle: { color: "#333", width: 1.2 } },
    splitLine: { show: false },
    axisLabel: labels
      ? { show: true, showMinLabel: false, showMaxLabel: false, margin: 12, ...insetTickLabel }
      : { show: false },
  });

  const insetY = (position: "left" | "right", labels: boolean) => ({
    type: "value" as const,
    gridIndex: 1,
    position,
    min: Y_MIN,
    max: Y_MAX,
    interval: Y_STEP,
    axisLine: { show: true, onZero: false, lineStyle: { color: "#333", width: 1.5 } },
    axisTick: { show: true, inside: true, length: 15, lineStyle: { color: "#333", width: 1.2 } },
    minorTick: { show: true, splitNumber: 5, length: 8, lineStyle: { color: "#333", width: 1.2 } },
    splitLine: { show: false },
    axisLabel: labels
      ? { show: true, margin: 9, formatter: (v: number) => fmt(v), ...insetTickLabel }
      : { show: false },
  });

  const text = (
    content: string,
    x: number,
    y: number,
    size: number,
    opts: { scaleX?: number; rotation?: number } = {}
  ) => ({
    type: "text" as const,
    x,
    y,
    rotation: opts.rotation ?? 0,
    scaleX: opts.scaleX ?? 1,
    scaleY: 1,
    silent: true,
    z: 10,
    style: {
      text: content,
      fontFamily: SERIF,
      fontSize: size,
      fill: "#000",
      align: "center",
      verticalAlign: "middle",
      textAlign: "center",
      textVerticalAlign: "middle",
    },
  });

  return {
    animation: false,
    backgroundColor: "#ffffff",
    grid: [
      { left: 438, top: 42, width: 2105, height: 1224, containLabel: false },
      { left: 1682, top: 194, width: 726, height: 533, containLabel: false },
    ],
    xAxis: [mainX("bottom", true), mainX("top", false), insetX("bottom", true), insetX("top", false)],
    yAxis: [mainY("left", true), mainY("right", false), insetY("left", true), insetY("right", false)],
    series: [
      {
        name: "reference",
        type: "line",
        xAxisIndex: 0,
        yAxisIndex: 0,
        data: mainDotted,
        showSymbol: false,
        silent: true,
        clip: true,
        lineStyle: { color: "#6a6a6a", width: 3.2, type: [3, 9], cap: "round" },
        z: 2,
      },
      {
        name: "filtered",
        type: "line",
        xAxisIndex: 0,
        yAxisIndex: 0,
        data: mainSolid,
        showSymbol: false,
        silent: true,
        clip: true,
        lineStyle: { color: "#2a2a2a", width: 3.2, join: "round" },
        z: 3,
      },
      {
        name: "reference, unfiltered",
        type: "line",
        xAxisIndex: 2,
        yAxisIndex: 2,
        data: insetDotted,
        showSymbol: false,
        silent: true,
        clip: true,
        lineStyle: { color: "#7a7a7a", width: 1.4, type: [1.5, 3] },
        z: 2,
      },
      {
        name: "unfiltered",
        type: "line",
        xAxisIndex: 2,
        yAxisIndex: 2,
        data: insetSolid,
        showSymbol: false,
        silent: true,
        clip: true,
        lineStyle: { color: "#111", width: 1.3 },
        z: 3,
      },
    ],
    graphic: [
      // panel titles and axis names, stretched horizontally like the rest of the figure
      text(titleText, 1465, -26, 97, { scaleX: 1.33 }),
      text(yAxisTitle, 132, 660, 103, { rotation: Math.PI / 2, scaleX: 0.747 }),
      text(xAxisTitle, 1490, 1416, 80, { scaleX: 1.34 }),
      text(titleText, 2037, 168, 33, { scaleX: 1.35 }),
      text(yAxisTitle, 1578, 460, 38, { rotation: Math.PI / 2, scaleX: 0.92 }),
      text(xAxisTitle, 2046, 796, 34, { scaleX: 1.07 }),
      text(insetNote, 2040, 668, 54, { scaleX: 0.86 }),
    ],
  } as echarts.EChartsOption;
}

export default function App() {
  const ref = useRef<HTMLDivElement>(null);

  useEffect(() => {
    if (!ref.current) return;
    const chart = echarts.init(ref.current, undefined, { renderer: "svg" });
    chart.setOption(buildOption());
    return () => {
      chart.dispose();
    };
  }, []);

  return (
    <div
      ref={ref}
      style={{
        position: "fixed",
        left: 0,
        top: 0,
        width: 2589,
        height: 1460,
        background: "#ffffff",
      }}
    />
  );
}
